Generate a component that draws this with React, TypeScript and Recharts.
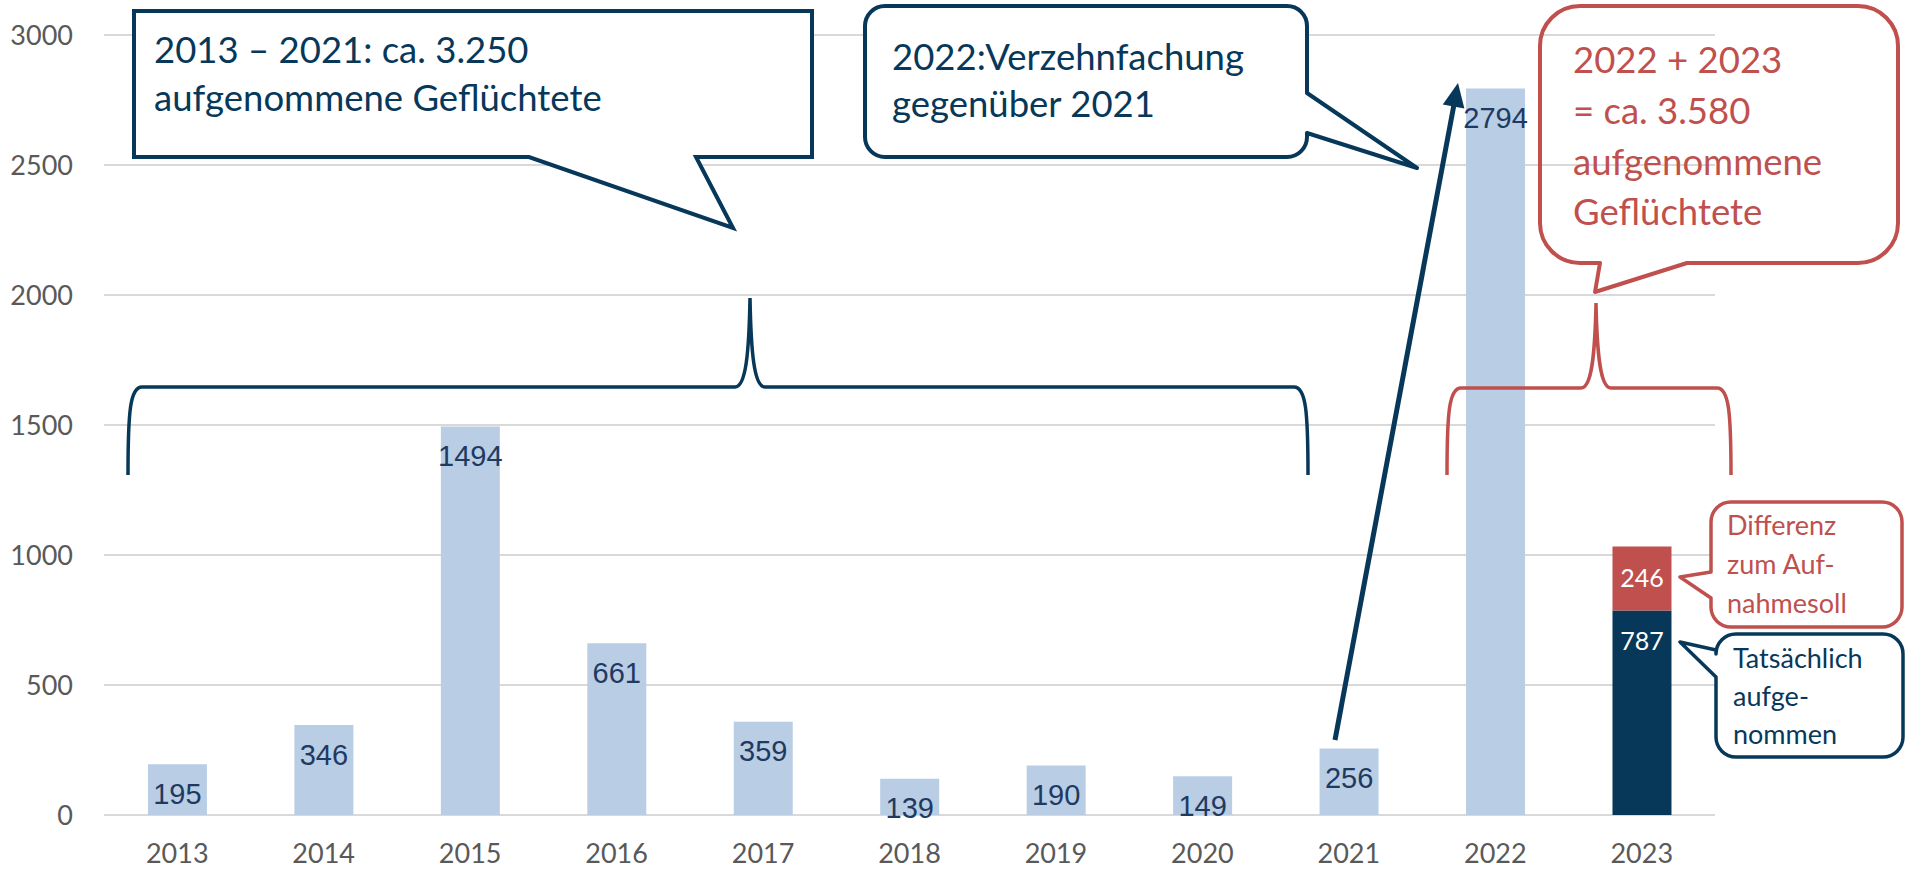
import React from 'react';
import { BarChart, Bar, XAxis, YAxis, CartesianGrid, LabelList } from 'recharts';

// ---- data ----
const years = ['2013', '2014', '2015', '2016', '2017', '2018', '2019', '2020', '2021', '2022', '2023'];
const aufgenommenBis2022: (number | null)[] = [195, 346, 1494, 661, 359, 139, 190, 149, 256, 2794, null];
const tatsaechlich2023: (number | null)[] = [null, null, null, null, null, null, null, null, null, null, 787];
const differenz2023: (number | null)[] = [null, null, null, null, null, null, null, null, null, null, 246];
const yTicks = [0, 500, 1000, 1500, 2000, 2500, 3000];

const data = years.map((year, i) => ({
  year,
  value: aufgenommenBis2022[i],
  tats: tatsaechlich2023[i],
  diff: differenz2023[i],
}));

// ---- styles ----
const NAVY = '#07385A';
const RED = '#C0504D';
const LIGHT = '#B9CDE5';
const LABEL_NAVY = '#1F3A60';
const AXIS_GRAY = '#595959';
const FONT = 'Lato, "Open Sans", sans-serif';
const ARIAL = '"Liberation Sans", Arial, sans-serif';

const W = 1905;
const H = 870;

function Annotations() {
  const r = 20;
  const callout2 = `M${865 + r},6 H${1307 - r} A${r},${r} 0 0 1 1307,${6 + r} V93 L1417,168 L1307,133 V${157 - r} A${r},${r} 0 0 1 ${1307 - r},157 H${865 + r} A${r},${r} 0 0 1 865,${157 - r} V${6 + r} A${r},${r} 0 0 1 ${865 + r},6 Z`;
  const R = 40;
  const callout3 = `M${1540 + R},6 H${1898 - R} A${R},${R} 0 0 1 1898,${6 + R} V${263 - R} A${R},${R} 0 0 1 ${1898 - R},263 H1687 L1595,292 L1600,263 H${1540 + R} A${R},${R} 0 0 1 1540,${263 - R} V${6 + R} A${R},${R} 0 0 1 ${1540 + R},6 Z`;
  const callout4 = `M${1711 + r},502 H${1902 - r} A${r},${r} 0 0 1 1902,${502 + r} V${627 - r} A${r},${r} 0 0 1 ${1902 - r},627 H${1711 + r} A${r},${r} 0 0 1 1711,${627 - r} V598 L1680,577 L1711,572 V${502 + r} A${r},${r} 0 0 1 ${1711 + r},502 Z`;
  const callout5 = `M${1716 + r},634 H${1903 - r} A${r},${r} 0 0 1 1903,${634 + r} V${757 - r} A${r},${r} 0 0 1 ${1903 - r},757 H${1716 + r} A${r},${r} 0 0 1 1716,${757 - r} V677 L1680,642 L1716,650 V${634 + r} A${r},${r} 0 0 1 ${1716 + r},634 Z`;
  const callout1 = 'M134,11 H812 V157 H696 L733,228 L529,157 H134 Z';

  const brace = (x0: number, x1: number, px: number, top: number, yh: number, yb: number) =>
    `M${x0},${yb} C${x0},${yh + 25} ${x0 + 2},${yh} ${x0 + 14},${yh} L${px - 15},${yh} C${px - 4},${yh} ${px - 1},${yh - 35} ${px},${top} C${px + 1},${yh - 35} ${px + 4},${yh} ${px + 15},${yh} L${x1 - 14},${yh} C${x1 - 2},${yh} ${x1},${yh + 25} ${x1},${yb}`;

  // arrow
  const sx = 1335, sy = 740, tx = 1458, ty = 83;
  const dx = tx - sx, dy = ty - sy;
  const len = Math.sqrt(dx * dx + dy * dy);
  const ux = dx / len, uy = dy / len;
  const hl = 24, hw = 11;
  const bx = tx - ux * hl, by = ty - uy * hl;
  const p1x = bx + -uy * hw, p1y = by + ux * hw;
  const p2x = bx - -uy * hw, p2y = by - ux * hw;

  const big = { fontFamily: FONT, fontSize: 36.5 } as const;
  const small = { fontFamily: FONT, fontSize: 27 } as const;

  return (
    <svg
      width={W}
      height={H}
      style={{ position: 'absolute', left: 0, top: 0, pointerEvents: 'none' }}
    >
      {/* braces */}
      <path d={brace(128, 1308, 750, 298, 387, 475)} fill="none" stroke={NAVY} strokeWidth={3.5} />
      <path d={brace(1447, 1731, 1596, 303, 388, 475)} fill="none" stroke={RED} strokeWidth={3.5} />

      {/* callout 1 */}
      <path d={callout1} fill="#fff" stroke={NAVY} strokeWidth={4} strokeLinejoin="miter" />
      <text x={154} y={63} fill={NAVY} {...big}>2013 – 2021: ca. 3.250</text>
      <text x={154} y={111} fill={NAVY} {...big}>aufgenommene Geflüchtete</text>

      {/* callout 2 */}
      <path d={callout2} fill="#fff" stroke={NAVY} strokeWidth={4} strokeLinejoin="round" />
      <text x={892} y={70} fill={NAVY} {...big}>2022:Verzehnfachung</text>
      <text x={892} y={117} fill={NAVY} {...big}>gegenüber 2021</text>

      {/* callout 3 */}
      <path d={callout3} fill="none" stroke={RED} strokeWidth={4} strokeLinejoin="round" />
      <text x={1573} y={73} fill={RED} {...big}>2022 + 2023</text>
      <text x={1573} y={124} fill={RED} {...big}>= ca. 3.580</text>
      <text x={1573} y={175} fill={RED} {...big}>aufgenommene</text>
      <text x={1573} y={225} fill={RED} {...big}>Geflüchtete</text>

      {/* callout 4 */}
      <path d={callout4} fill="#fff" stroke={RED} strokeWidth={3.5} strokeLinejoin="round" />
      <text x={1727} y={535} fill={RED} {...small}>Differenz</text>
      <text x={1727} y={574} fill={RED} {...small}>zum Auf-</text>
      <text x={1727} y={613} fill={RED} {...small}>nahmesoll</text>

      {/* callout 5 */}
      <path d={callout5} fill="#fff" stroke={NAVY} strokeWidth={3.5} strokeLinejoin="round" />
      <text x={1733} y={668} fill={NAVY} {...small}>Tatsächlich</text>
      <text x={1733} y={706} fill={NAVY} {...small}>aufge-</text>
      <text x={1733} y={744} fill={NAVY} {...small}>nommen</text>

      {/* arrow */}
      <line x1={sx} y1={sy} x2={bx + ux * 2} y2={by + uy * 2} stroke={NAVY} strokeWidth={5} />
      <polygon points={`${tx},${ty} ${p1x},${p1y} ${p2x},${p2y}`} fill={NAVY} />
    </svg>
  );
}

export default function App() {
  return (
    <div style={{ position: 'absolute', left: 0, top: 0, width: W, height: H, background: '#fff' }}>
      <BarChart
        width={W}
        height={H}
        data={data}
        margin={{ top: 35, right: 190, bottom: 0, left: 0 }}
        barCategoryGap="30%"
      >
        <CartesianGrid vertical={false} stroke="#D9D9D9" strokeWidth={2} />
        <XAxis
          dataKey="year"
          axisLine={false}
          tickLine={false}
          height={55}
          tickMargin={23}
          tick={{ fontFamily: FONT, fontSize: 27, fill: AXIS_GRAY }}
          interval={0}
        />
        <YAxis
          domain={[0, 3000]}
          ticks={yTicks}
          axisLine={false}
          tickLine={false}
          width={104}
          tickMargin={25}
          tick={{ fontFamily: FONT, fontSize: 27, fill: AXIS_GRAY }}
        />
        <Bar dataKey="value" stackId="a" fill={LIGHT} isAnimationActive={false}>
          <LabelList
            dataKey="value"
            position="insideTop"
            offset={19}
            fill={LABEL_NAVY}
            fontFamily={ARIAL}
            fontSize={29}
            style={{ fontFamily: ARIAL, fontSize: 29 }}
          />
        </Bar>
        <Bar dataKey="tats" stackId="a" fill={NAVY} isAnimationActive={false}>
          <LabelList
            dataKey="tats"
            position="insideTop"
            offset={22}
            fill="#fff"
            fontFamily={FONT}
            fontSize={25}
            style={{ fontFamily: FONT, fontSize: 25 }}
          />
        </Bar>
        <Bar dataKey="diff" stackId="a" fill={RED} isAnimationActive={false}>
          <LabelList
            dataKey="diff"
            position="insideTop"
            offset={23}
            fill="#fff"
            fontFamily={FONT}
            fontSize={25}
            style={{ fontFamily: FONT, fontSize: 25 }}
          />
        </Bar>
      </BarChart>
      <Annotations />
    </div>
  );
}
